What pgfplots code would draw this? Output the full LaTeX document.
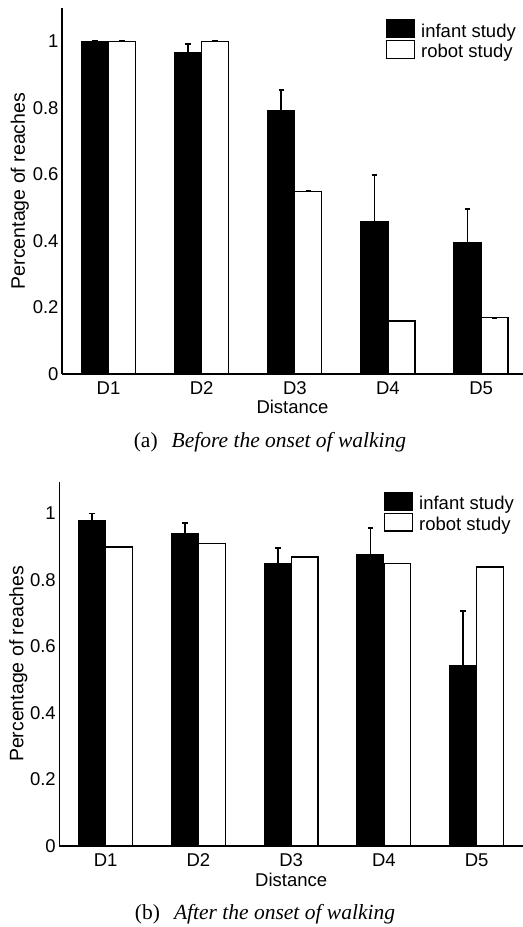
\documentclass[border=0pt]{standalone}
\usepackage{fontspec}
\setmainfont{Liberation Sans}
\newfontfamily\capfont{Liberation Serif}
\usepackage{pgfplots}
\pgfplotsset{compat=1.18}
\pgfplotsset{
  reachstyle/.style={
    scale only axis,
    xmin=0.5, ymin=0,
    axis x line*=bottom, axis y line*=left,
    axis line style={line width=1.2bp, black},
    major tick length=0pt,
    xtick={1,2,3,4,5},
    xticklabels={D1,D2,D3,D4,D5},
    ytick={0,0.2,0.4,0.6,0.8,1},
    /pgf/number format/assume math mode=true,
    font=\fontsize{18.5bp}{22bp}\selectfont,
    tick label style={font=\fontsize{18.5bp}{22bp}\selectfont},
    label style={font=\fontsize{18.5bp}{22bp}\selectfont},
    xticklabel style={anchor=base, yshift=-20.7bp},
    xlabel={Distance},
    xlabel style={at={(axis description cs:0.5,0)}, anchor=base, yshift=-40bp},
    ylabel={Percentage of reaches},
    ybar,
    bar width=0.29,
    legend cell align=left,
    legend style={draw=none, fill=none, anchor=north east,
      font=\fontsize{18.5bp}{22bp}\selectfont,
      nodes={inner sep=0pt}, column sep=6bp, row sep=1.5bp},
  },
  errstyle/.style={
    error bars/y dir=plus, error bars/y explicit,
    error bars/error mark=|,
    error bars/error bar style={line width=1.7bp, black, solid},
    error bars/error mark options={line width=1.7bp, mark size=2.8bp, black, solid}},
  infantbar/.style={fill=black, draw=black, line width=1.2bp, bar shift=-0.145, errstyle},
  robotbar/.style={fill=white, draw=black, line width=1.3bp, bar shift=0.145, errstyle},
  boxlegend/.style={legend image code/.code={\draw[##1, line width=1.3bp] (0bp,-6.4bp) rectangle (28.3bp,11.3bp);}},
}
\begin{document}
\begin{tikzpicture}
% top panel
\begin{axis}[reachstyle,
  at={(62bp,553bp)}, anchor=south west,
  width=461bp, height=366bp,
  xmax=5.45, ymax=1.1,
  ylabel style={at={(axis description cs:-0.0803,0.5)}, anchor=base, font=\fontsize{19.5bp}{23bp}\selectfont},
  legend style={at={(axis description cs:1,1)}, xshift=-4bp, yshift=-9bp},
]
\addplot[infantbar, boxlegend] coordinates {
  (1,1.000) +- (0,0.000)
  (2,0.967) +- (0,0.024)
  (3,0.793) +- (0,0.060)
  (4,0.459) +- (0,0.140)
  (5,0.396) +- (0,0.099)
};
\addlegendentry{infant study}
\addplot[robotbar, boxlegend] coordinates {
  (1,1.000) +- (0,0)
  (2,1.000) +- (0,0)
  (3,0.549) +- (0,0)
  (4,0.159) +- (0,0)
  (5,0.169) +- (0,0)
};
\addlegendentry{robot study}
\end{axis}
% bottom panel
\begin{axis}[reachstyle,
  at={(59.3bp,81bp)}, anchor=south west,
  width=463.7bp, height=364.3bp,
  xmax=5.5, ymax=1.095,
  ylabel style={at={(axis description cs:-0.0776,0.5)}, anchor=base, font=\fontsize{19.5bp}{23bp}\selectfont},
  legend style={at={(axis description cs:1,1)}, xshift=-6bp, yshift=-8bp},
]
\addplot[infantbar, boxlegend] coordinates {
  (1,0.978) +- (0,0.021)
  (2,0.940) +- (0,0.031)
  (3,0.850) +- (0,0.046)
  (4,0.875) +- (0,0.080)
  (5,0.542) +- (0,0.165)
};
\addlegendentry{infant study}
\addplot[robotbar, boxlegend] coordinates {
  (1,0.899) +- (0,0)
  (2,0.909) +- (0,0)
  (3,0.869) +- (0,0)
  (4,0.849) +- (0,0)
  (5,0.839) +- (0,0)
};
\addlegendentry{robot study}
\end{axis}
\node[anchor=base, inner sep=0pt] at (270bp,479bp) {\capfont\fontsize{21.5bp}{25bp}\selectfont (a)\hspace{14bp}\textit{Before the onset of walking}};
\node[anchor=base, inner sep=0pt] at (265bp,8bp) {\capfont\fontsize{21.5bp}{25bp}\selectfont (b)\hspace{14bp}\textit{After the onset of walking}};
\pgfresetboundingbox
\useasboundingbox (0,0) rectangle (523bp,927bp);
\end{tikzpicture}
\end{document}
